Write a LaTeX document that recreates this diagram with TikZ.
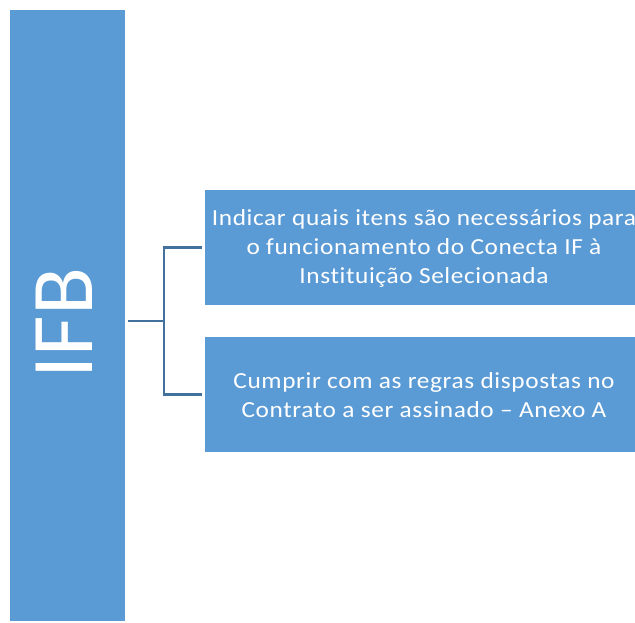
\documentclass[tikz,border=0pt]{standalone}
\usepackage{fontspec}
\setmainfont{Carlito}
\newfontfamily\itemfont[FakeStretch=1.1, LetterSpace=2.7, Ligatures=NoCommon]{Carlito}
\definecolor{boxblue}{HTML}{5B9BD5}
\definecolor{linkblue}{HTML}{41719C}
\begin{document}
\begin{tikzpicture}[x=1pt, y=-1pt,
        box/.style={fill=boxblue, draw=none, inner sep=0pt, anchor=north west},
        boxtext/.style={text=white, align=center, inner sep=0pt, anchor=base, font=\itemfont\fontsize{23}{28.7}\selectfont},
        link/.style={draw=linkblue, line width=2.8pt, shorten <=3pt, shorten >=3pt}]
        \useasboundingbox (0,0) rectangle (635,622);

        \node[box, minimum width=115pt, minimum height=611pt] (ifb) at (10,10) {};
        \node[text=white, rotate=90, inner sep=0pt, font=\fontsize{88}{88}\selectfont] (ifblabel) at (64.5,323) {IFB};

        \node[box, minimum width=430pt, minimum height=115pt] (item1) at (205,190) {};
        \node[boxtext] (item1label) at (424,283) {Indicar quais itens são necessários para\\o funcionamento do Conecta IF à\\Instituição Selecionada};

        \node[box, minimum width=430pt, minimum height=115pt] (item2) at (205,337) {};
        \node[boxtext] (item2label) at (424,417) {Cumprir com as regras dispostas no\\Contrato a ser assinado – Anexo A};

        \coordinate (fork) at (164,321);
        \draw[link, shorten >=0pt] (ifb.east |- fork) -- (fork);
        \draw[link] (item1.west) -| (fork) |- (item2.west);
    \end{tikzpicture}
\end{document}
